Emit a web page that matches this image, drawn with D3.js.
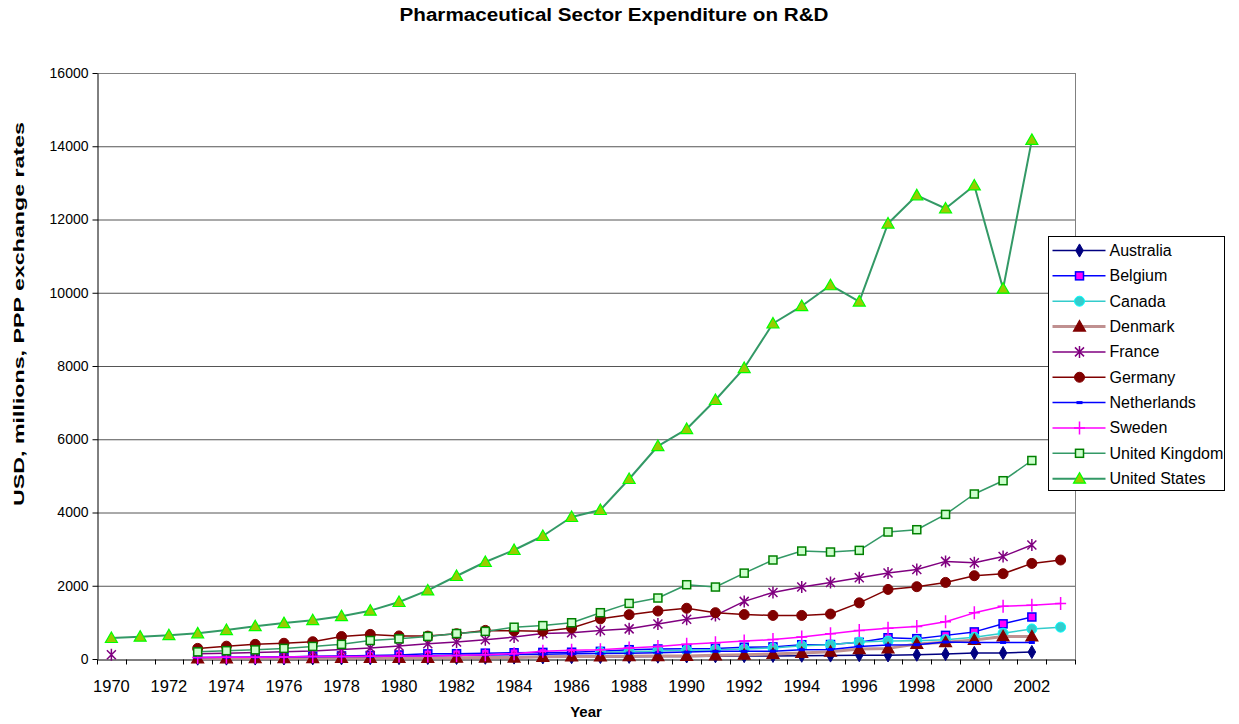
<!DOCTYPE html>
<html>
<head>
<meta charset="utf-8">
<script src="https://cdn.jsdelivr.net/npm/d3@7"></script>
<style>
	body { margin: 0; background: #fff; }
	text { font-family: Arial, 'Liberation Sans', sans-serif; fill: #000; }
</style>
</head>
<body>
<div id="chart"></div>
<script>
'use strict';

// DATA
var years = d3.range(1970, 2004);
var yTicks = [0, 2000, 4000, 6000, 8000, 10000, 12000, 14000, 16000];
var xLabels = d3.range(1970, 2004, 2);

var australia = [null, null, null, 10, 12, 14, 16, 18, 20, 22, 25, 28, 30, 35, 40, 45, 50, 55, 60, 65, 70, 75, 80, 85, 90, 95, 105, 100, 118, 136, 164, 164, 191, null];
var belgium = [null, null, null, 30, 35, 45, 55, 75, 85, 95, 110, 140, 145, 160, 170, 180, 185, 209, 254, 273, 280, 290, 320, 330, 390, 395, 455, 580, 555, 645, 740, 960, 1147, null];
var canada = [null, null, null, null, null, null, null, null, null, null, null, null, null, null, null, null, null, 185, 200, 220, 240, 254, 275, 300, 363, 390, 464, 490, 500, 527, 591, 705, 820, 870];
var denmark = [null, null, null, 15, 18, 20, 22, 25, 27, 30, 30, 32, 35, 38, 40, 60, 70, 70, 75, 80, 85, 100, 118, 136, 164, 200, 270, 290, 409, 460, 520, 617, 617, null];
var france = [117, null, null, 145, 160, 180, 200, 220, 260, 300, 355, 418, 464, 527, 600, 696, 720, 777, 823, 955, 1086, 1190, 1573, 1818, 1965, 2091, 2219, 2348, 2446, 2665, 2629, 2801, 3112, null];
var germany = [null, null, null, 290, 350, 400, 430, 472, 613, 672, 630, 625, 690, 781, 770, 760, 846, 1096, 1210, 1310, 1386, 1265, 1214, 1190, 1190, 1228, 1533, 1900, 1974, 2091, 2274, 2329, 2610, 2703];
var netherlands = [null, null, null, 40, 45, 50, 55, 60, 65, 70, 80, 90, 100, 110, 120, 130, 140, 150, 160, 170, 190, 209, 209, 215, 254, 260, 344, 380, 390, 464, 451, 451, 451, null];
var sweden = [null, null, null, 40, 45, 50, 55, 65, 70, 75, 80, 85, 95, 117, 145, 209, 236, 254, 300, 340, 400, 445, 490, 530, 600, 690, 775, 840, 885, 1015, 1260, 1440, 1470, 1515];
var unitedKingdom = [null, null, null, 195, 227, 250, 290, 344, 400, 505, 550, 617, 695, 754, 868, 912, 990, 1264, 1518, 1665, 2028, 1965, 2345, 2703, 2948, 2921, 2966, 3467, 3530, 3948, 4505, 4868, 5420, null];
var unitedStates = [573, 610, 650, 700, 790, 895, 980, 1060, 1170, 1320, 1556, 1872, 2266, 2648, 2976, 3358, 3877, 4068, 4914, 5815, 6279, 7071, 7944, 9160, 9637, 10205, 9760, 11890, 12660, 12300, 12930, 10110, 14175, null];

var series = [
	{name: 'Australia', values: australia, line: '#000080', lineWidth: 1.5, marker: 'diamond', fill: '#000080', stroke: '#000080'},
	{name: 'Belgium', values: belgium, line: '#0000ff', lineWidth: 1.5, marker: 'square', fill: '#ff00ff', stroke: '#0000ff'},
	{name: 'Canada', values: canada, line: '#33cccc', lineWidth: 1.5, marker: 'circle', fill: '#33cccc', stroke: '#00ffff'},
	{name: 'Denmark', values: denmark, line: '#c09090', lineWidth: 3, marker: 'triangle', fill: '#800000', stroke: '#800000'},
	{name: 'France', values: france, line: '#800080', lineWidth: 1.5, marker: 'asterisk', fill: 'none', stroke: '#800080'},
	{name: 'Germany', values: germany, line: '#800000', lineWidth: 1.5, marker: 'circle', fill: '#800000', stroke: '#800000'},
	{name: 'Netherlands', values: netherlands, line: '#0000ff', lineWidth: 1.5, marker: 'dash', fill: 'none', stroke: '#0000ff'},
	{name: 'Sweden', values: sweden, line: '#ff00ff', lineWidth: 1.5, marker: 'plus', fill: 'none', stroke: '#ff00ff'},
	{name: 'United Kingdom', values: unitedKingdom, line: '#339966', lineWidth: 1.5, marker: 'square', fill: '#ccffcc', stroke: '#008000'},
	{name: 'United States', values: unitedStates, line: '#339966', lineWidth: 2, marker: 'triangle', fill: '#99cc00', stroke: '#00ff00'}
];

var margin = {top: 73, right: 164, bottom: 65, left: 97};
var width = 1239 - margin.left - margin.right;
var height = 724 - margin.top - margin.bottom;

var svg = d3.select('#chart').append('svg')
	.attr('width', 1239)
	.attr('height', 724);

// TITLES
svg.append('text')
	.attr('x', 614)
	.attr('y', 21)
	.attr('text-anchor', 'middle')
	.attr('textLength', 429)
	.attr('lengthAdjust', 'spacingAndGlyphs')
	.style('font-size', '18px')
	.style('font-weight', 'bold')
	.text('Pharmaceutical Sector Expenditure on R&D');

svg.append('text')
	.attr('transform', 'translate(24,314) rotate(-90)')
	.attr('text-anchor', 'middle')
	.attr('textLength', 384)
	.attr('lengthAdjust', 'spacingAndGlyphs')
	.style('font-size', '15px')
	.style('font-weight', 'bold')
	.text('USD, millions, PPP exchange rates');

svg.append('text')
	.attr('x', 586)
	.attr('y', 717)
	.attr('text-anchor', 'middle')
	.style('font-size', '15px')
	.style('font-weight', 'bold')
	.text('Year');

var g = svg.append('g')
	.attr('transform', 'translate(' + margin.left + ',' + margin.top + ')');

var xScale = d3.scaleBand()
	.domain(years)
	.range([0, width]);

var yScale = d3.scaleLinear()
	.domain([0, 16000])
	.range([height, 0]);

// GRID
g.append('g')
	.attr('class', 'grid')
	.selectAll('line')
	.data(yTicks.slice(1))
	.enter().append('line')
		.attr('x1', 0)
		.attr('x2', width)
		.attr('y1', function(d){ return yScale(d) + 0.5; })
		.attr('y2', function(d){ return yScale(d) + 0.5; })
		.attr('stroke', function(d){ return d === 16000 ? '#808080' : '#555'; })
		.attr('stroke-width', 1);

g.append('line')
	.attr('x1', width + 0.5)
	.attr('x2', width + 0.5)
	.attr('y1', 0)
	.attr('y2', height)
	.attr('stroke', '#808080');

// AXES
var yAxis = d3.axisLeft(yScale)
	.tickValues(yTicks)
	.tickSizeInner(5)
	.tickSizeOuter(0)
	.tickPadding(4)
	.tickFormat(d3.format('d'));

var yG = g.append('g')
	.attr('class', 'axis y')
	.attr('transform', 'translate(0.5,0)')
	.call(yAxis);
yG.selectAll('text').style('font-size', '14px').attr('fill', '#000');
yG.selectAll('line, path').attr('stroke', '#000');

var xAxis = d3.axisBottom(xScale)
	.tickValues(xLabels)
	.tickSize(0)
	.tickPadding(21);

var xG = g.append('g')
	.attr('class', 'axis x')
	.attr('transform', 'translate(0,' + (height + 0.5) + ')')
	.call(xAxis);
xG.selectAll('text').style('font-size', '16.5px').attr('fill', '#000');
xG.select('path').attr('stroke', '#000');

// tick marks on the band edges
xG.selectAll('line.edge')
	.data(years.concat([2004]))
	.enter().append('line')
		.attr('class', 'edge')
		.attr('x1', function(d, i){ return Math.round(i * xScale.step()) + 0.5; })
		.attr('x2', function(d, i){ return Math.round(i * xScale.step()) + 0.5; })
		.attr('y1', 0)
		.attr('y2', 5)
		.attr('stroke', '#000');

// LINES
function cx(i){ return xScale(years[i]) + xScale.bandwidth() / 2; }

var line = d3.line()
	.defined(function(d){ return d !== null; })
	.x(function(d, i){ return cx(i); })
	.y(function(d){ return yScale(d); });

function drawMarker(sel, s){
	if (s.marker === 'square') {
		sel.append('rect')
			.attr('x', -4).attr('y', -4)
			.attr('width', 8).attr('height', 8)
			.attr('fill', s.fill).attr('stroke', s.stroke).attr('stroke-width', 1.5);
	} else if (s.marker === 'circle') {
		sel.append('circle')
			.attr('r', 5)
			.attr('fill', s.fill).attr('stroke', s.stroke).attr('stroke-width', 1);
	} else if (s.marker === 'diamond') {
		sel.append('path')
			.attr('d', d3.symbol().type(d3.symbolDiamond).size(50)())
			.attr('fill', s.fill).attr('stroke', s.stroke);
	} else if (s.marker === 'triangle') {
		sel.append('path')
			.attr('d', 'M0,-6L6,4.5L-6,4.5Z')
			.attr('fill', s.fill).attr('stroke', s.stroke).attr('stroke-width', 1.2);
	} else if (s.marker === 'asterisk') {
		sel.append('path')
			.attr('d', 'M-4.5,-4.5L4.5,4.5M-4.5,4.5L4.5,-4.5M0,-6L0,6')
			.attr('fill', 'none').attr('stroke', s.stroke).attr('stroke-width', 1.5);
	} else if (s.marker === 'plus') {
		sel.append('path')
			.attr('d', 'M-5.5,0L5.5,0M0,-6.5L0,6.5')
			.attr('fill', 'none').attr('stroke', s.stroke).attr('stroke-width', 1.5);
	} else if (s.marker === 'dash') {
		sel.append('rect')
			.attr('x', -3).attr('y', -1.5)
			.attr('width', 6).attr('height', 3)
			.attr('fill', s.stroke);
	}
}

var seriesG = g.append('g').attr('class', 'series');

series.forEach(function(s){
	var sg = seriesG.append('g');

	sg.append('path')
		.datum(s.values)
		.attr('d', line)
		.attr('fill', 'none')
		.attr('stroke', s.line)
		.attr('stroke-width', s.lineWidth)
		.attr('stroke-linejoin', 'round');

	sg.selectAll('g.pt')
		.data(s.values.map(function(v, i){ return {v: v, i: i}; })
			.filter(function(d){ return d.v !== null; }))
		.enter().append('g')
			.attr('class', 'pt')
			.attr('transform', function(d){ return 'translate(' + cx(d.i) + ',' + yScale(d.v) + ')'; })
			.each(function(){ drawMarker(d3.select(this), s); });
});

// LEGEND
var legend = svg.append('g')
	.attr('transform', 'translate(1048.5,236.5)');

legend.append('rect')
	.attr('width', 176)
	.attr('height', 254)
	.attr('fill', '#fff')
	.attr('stroke', '#000');

var rowH = 25.35;
var item = legend.selectAll('g.item')
	.data(series)
	.enter().append('g')
		.attr('class', 'item')
		.attr('transform', function(d, i){ return 'translate(0,' + (14 + i * rowH) + ')'; });

item.append('line')
	.attr('x1', 4)
	.attr('x2', 57)
	.attr('stroke', function(d){ return d.line; })
	.attr('stroke-width', function(d){ return d.lineWidth; });

item.append('g')
	.attr('transform', 'translate(31,0)')
	.each(function(d){ drawMarker(d3.select(this), d); });

item.append('text')
	.attr('x', 61)
	.attr('y', 5.5)
	.style('font-size', '16px')
	.text(function(d){ return d.name; });
</script>
</body>
</html>
